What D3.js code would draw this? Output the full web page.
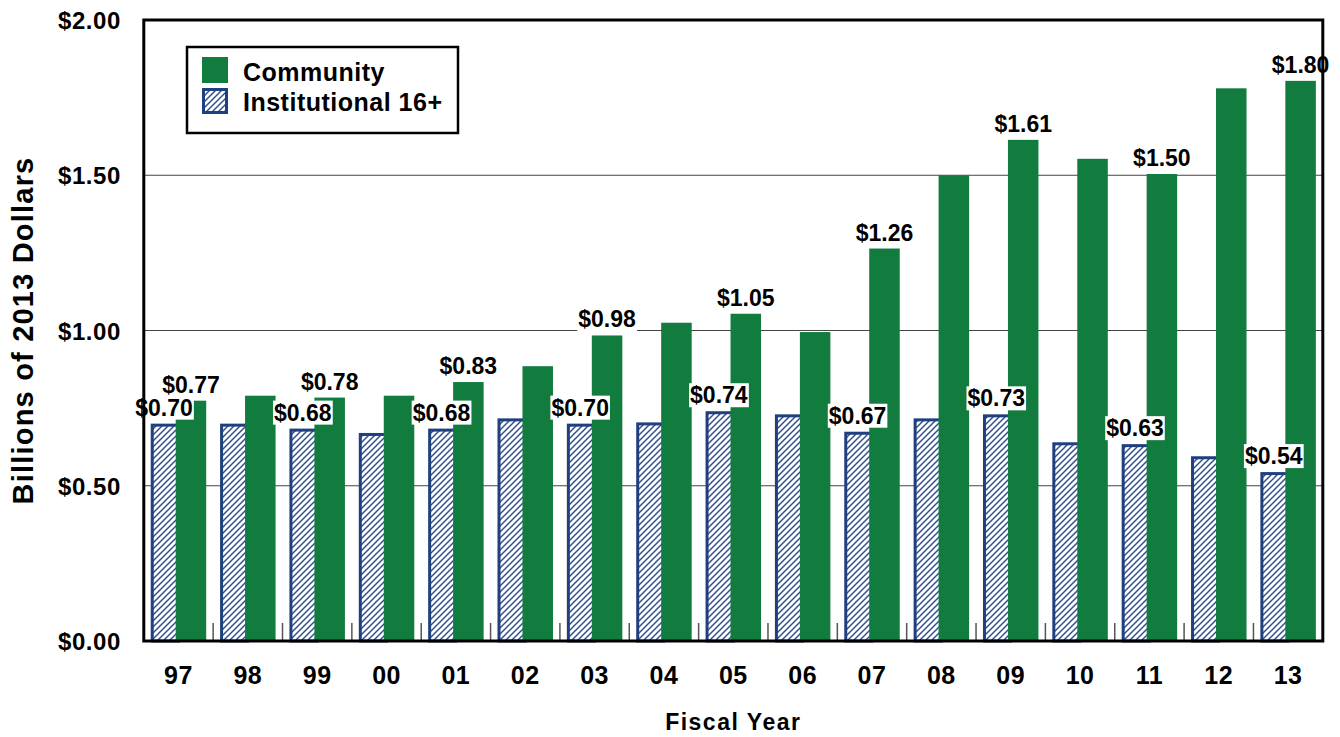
<!DOCTYPE html>
<html>
<head>
<meta charset="utf-8">
<script src="https://cdn.jsdelivr.net/npm/d3@7"></script>
<style>
  html, body { margin: 0; padding: 0; background: #fff; }
  svg { display: block; font-family: "Liberation Sans", Arial, sans-serif; font-weight: bold; }
</style>
</head>
<body>
<svg id="chart" width="1340" height="737"></svg>
<script>
// ---- data ----
const years = ["97","98","99","00","01","02","03","04","05","06","07","08","09","10","11","12","13"];
const community = [0.774, 0.79, 0.784, 0.79, 0.834, 0.885, 0.984, 1.025, 1.054, 0.995, 1.264, 1.50, 1.614, 1.553, 1.504, 1.78, 1.804];
const institutional = [0.70, 0.70, 0.684, 0.67, 0.684, 0.717, 0.70, 0.704, 0.74, 0.73, 0.674, 0.717, 0.73, 0.64, 0.634, 0.595, 0.544];
const labeledYears = ["97","99","01","03","05","07","09","11","13"];
const yTicks = [0, 0.5, 1.0, 1.5, 2.0];
const seriesNames = ["Community", "Institutional 16+"];

const GREEN = "#127C3E";
const BLUE = "#1F3F7F";

const svg = d3.select("#chart");
const pLeft = 143.8, pRight = 1322.8, pTop = 20, pBottom = 641;

const x = d3.scaleBand().domain(years).range([pLeft, pRight]).paddingInner(0.2).paddingOuter(0.1);
const y = d3.scaleLinear().domain([0, 2]).range([pBottom, pTop]);
const step = x.step();
const fmt = v => "$" + d3.format(".2f")(v);

// hatch pattern (wide upward diagonal)
const defs = svg.append("defs");
const pat = defs.append("pattern").attr("id", "hatch").attr("patternUnits", "userSpaceOnUse")
  .attr("width", 6).attr("height", 6);
pat.append("rect").attr("width", 6).attr("height", 6).attr("fill", "#fff");
pat.append("path").attr("d", "M-1,7 L7,-1 M-1,1 L1,-1 M5,7 L7,5")
  .attr("stroke", "#34508F").attr("stroke-width", 1.5);

// gridlines
svg.append("g").selectAll("line").data(yTicks.filter(d => d > 0 && d < 2)).join("line")
  .attr("x1", pLeft).attr("x2", pRight).attr("y1", d => y(d)).attr("y2", d => y(d))
  .attr("stroke", "#444").attr("stroke-width", 1);

// bottom ticks between categories
svg.append("g").selectAll("line").data(years.slice(1)).join("line")
  .attr("x1", d => x(d) - step * 0.1).attr("x2", d => x(d) - step * 0.1)
  .attr("y1", pBottom).attr("y2", pBottom - 18)
  .attr("stroke", "#555").attr("stroke-width", 1.5);

const bw = x.bandwidth();
// institutional bars
svg.append("g").selectAll("rect").data(years).join("rect")
  .attr("x", d => x(d) + 1.5)
  .attr("width", bw * 0.5 - 1.5)
  .attr("y", (d, i) => y(institutional[i]) + 1.5)
  .attr("height", (d, i) => pBottom - y(institutional[i]) - 1.5)
  .attr("fill", "url(#hatch)").attr("stroke", BLUE).attr("stroke-width", 3);

// community bars
svg.append("g").selectAll("rect").data(years).join("rect")
  .attr("x", d => x(d) + bw * 0.45)
  .attr("width", bw * 0.55)
  .attr("y", (d, i) => y(community[i]))
  .attr("height", (d, i) => pBottom - y(community[i]))
  .attr("fill", GREEN);

// data labels with white backgrounds
function addLabels(values, cx) {
  const g = svg.append("g");
  years.forEach((yr, i) => {
    if (!labeledYears.includes(yr)) return;
    const by = y(values[i]) - 8;
    const t = g.append("text")
      .attr("x", cx(yr)).attr("y", by)
      .attr("text-anchor", "middle").attr("font-size", 23).attr("fill", "#000")
      .text(fmt(values[i]));
    const bb = t.node().getBBox();
    g.insert("rect", () => t.node())
      .attr("x", bb.x - 1).attr("y", by - 20).attr("width", bb.width + 2).attr("height", 24)
      .attr("fill", "#fff");
  });
}
addLabels(community, d => x(d) + bw * 0.725);
addLabels(institutional, d => x(d) + bw * 0.24);

// frame
svg.append("rect").attr("x", pLeft).attr("y", pTop).attr("width", pRight - pLeft).attr("height", pBottom - pTop)
  .attr("fill", "none").attr("stroke", "#000").attr("stroke-width", 3);

// y tick labels
svg.append("g").selectAll("text").data(yTicks).join("text")
  .attr("x", 121).attr("y", d => y(d) + 9)
  .attr("text-anchor", "end").attr("font-size", 24).attr("letter-spacing", 0.6)
  .text(d => "$" + d3.format(".2f")(d));

// x tick labels
svg.append("g").selectAll("text").data(years).join("text")
  .attr("x", d => x(d) + bw / 2).attr("y", 684)
  .attr("text-anchor", "middle").attr("font-size", 25).attr("letter-spacing", 0.5)
  .text(d => d);

// axis titles
svg.append("text").attr("x", (pLeft + pRight) / 2).attr("y", 730)
  .attr("text-anchor", "middle").attr("font-size", 23).attr("letter-spacing", 1.5)
  .text("Fiscal Year");
svg.append("text").attr("transform", `translate(33,${(pTop + pBottom) / 2}) rotate(-90)`)
  .attr("text-anchor", "middle").attr("font-size", 29).attr("letter-spacing", 1.2)
  .text("Billions of 2013 Dollars");

// legend
const lg = svg.append("g");
lg.append("rect").attr("x", 187).attr("y", 47).attr("width", 271).attr("height", 86)
  .attr("fill", "#fff").attr("stroke", "#000").attr("stroke-width", 2.5);
lg.append("rect").attr("x", 202).attr("y", 57).attr("width", 26).attr("height", 26).attr("fill", GREEN);
lg.append("rect").attr("x", 203.5).attr("y", 89.5).attr("width", 23).attr("height", 23)
  .attr("fill", "url(#hatch)").attr("stroke", BLUE).attr("stroke-width", 3);
lg.selectAll("text.leg").data(seriesNames).join("text").attr("class", "leg")
  .attr("x", 243).attr("y", (d, i) => 81 + i * 30)
  .attr("font-size", 25).attr("letter-spacing", 0.5)
  .text(d => d);
</script>
</body>
</html>
